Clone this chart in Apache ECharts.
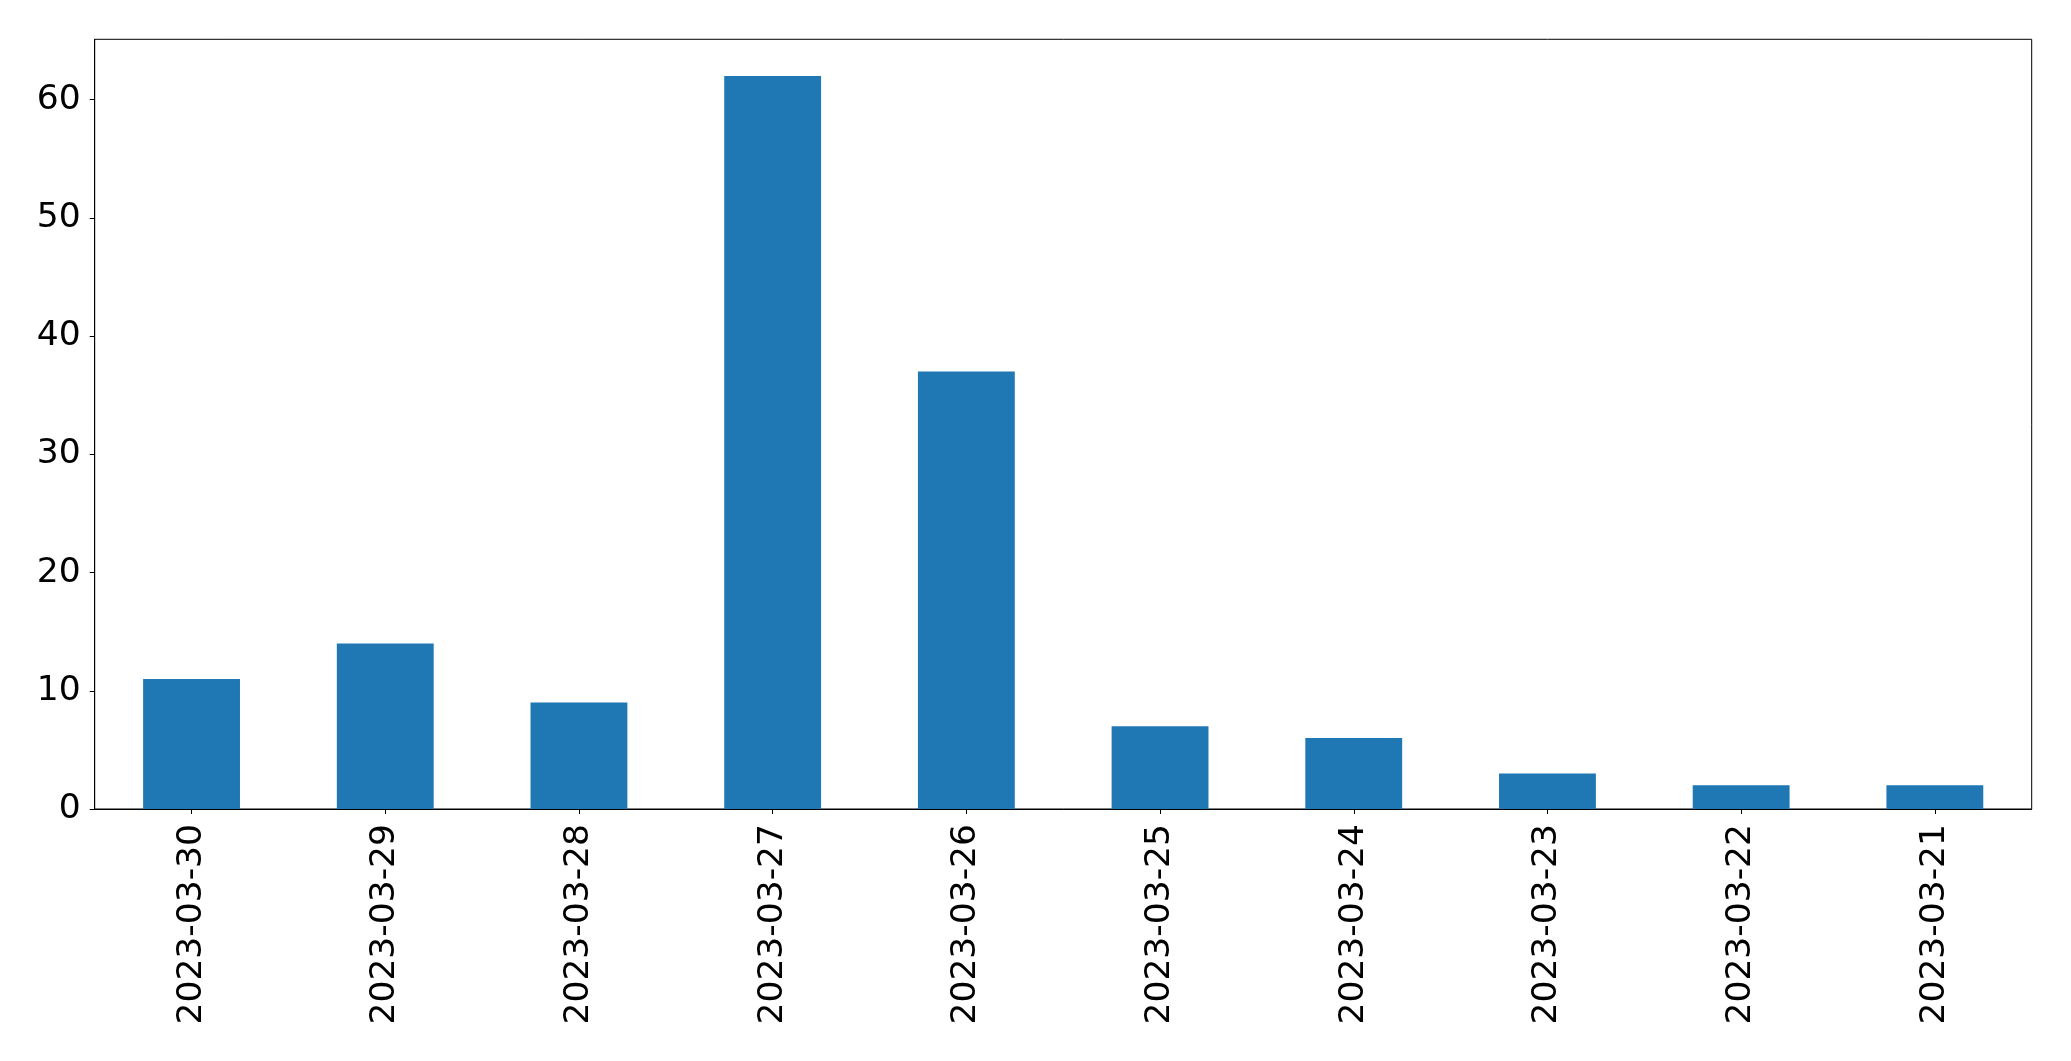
<!DOCTYPE html>
<html>
<head>
<meta charset="utf-8">
<script src="https://cdn.jsdelivr.net/npm/echarts@6/dist/echarts.min.js"></script>
<style>
html,body{margin:0;padding:0;background:#fff;}
#chart{width:2071px;height:1061px;}
</style>
</head>
<body>
<div id="chart"></div>
<script>
const categories = ["2023-03-30","2023-03-29","2023-03-28","2023-03-27","2023-03-26","2023-03-25","2023-03-24","2023-03-23","2023-03-22","2023-03-21"];
const values = [11, 14, 9, 62, 37, 7, 6, 3, 2, 2];
const yTicks = [0, 10, 20, 30, 40, 50, 60];

const chart = echarts.init(document.getElementById('chart'), null, {renderer: 'canvas'});
const font = "'DejaVu Sans', sans-serif";
chart.setOption({
  animation: false,
  backgroundColor: '#ffffff',
  grid: {
    left: 94.7, right: 39.3, top: 39.3, bottom: 252,
    show: true, borderColor: '#000', borderWidth: 1, backgroundColor: 'transparent'
  },
  xAxis: {
    type: 'category',
    data: categories,
    boundaryGap: true,
    axisLine: {show: true, lineStyle: {color: '#000', width: 1}},
    axisTick: {show: true, alignWithLabel: true, length: 5, lineStyle: {color: '#000', width: 1}},
    axisLabel: {rotate: 90, margin: 15, color: '#000', fontSize: 34.5, fontFamily: font, interval: 0}
  },
  yAxis: {
    type: 'value',
    min: 0, max: 65.1, interval: 10,
    splitLine: {show: false},
    axisLine: {show: true, lineStyle: {color: '#000', width: 1}},
    axisTick: {show: true, length: 5, lineStyle: {color: '#000', width: 1}, customValues: yTicks},
    axisLabel: {color: '#000', fontSize: 34.5, fontFamily: font, margin: 14, customValues: yTicks}
  },
  series: [{
    type: 'bar',
    data: values,
    barWidth: '50%',
    itemStyle: {color: '#1f77b4'}
  }]
});
</script>
</body>
</html>
